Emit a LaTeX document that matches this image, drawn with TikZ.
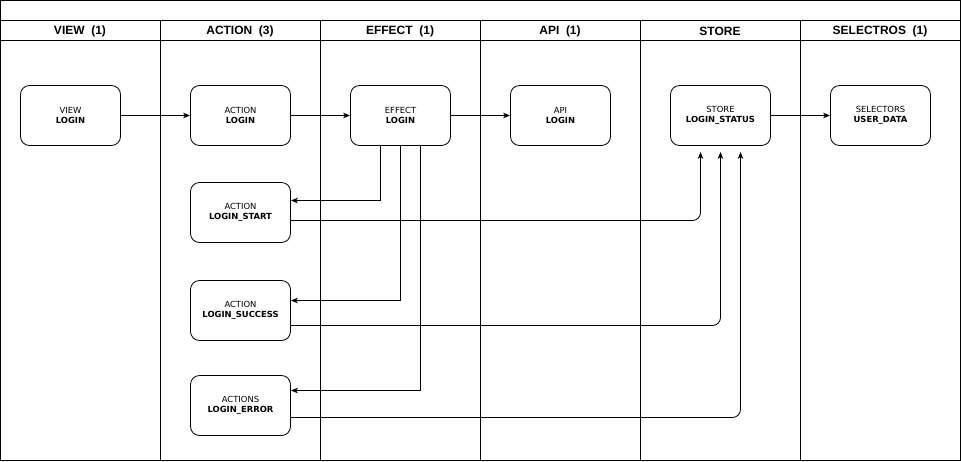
\documentclass[tikz,border=0pt]{standalone}
\usepackage{fontspec}
\setmainfont{DejaVu Sans}
\newfontfamily\hdrfont{Liberation Sans}
\usetikzlibrary{arrows.meta,calc}
\begin{document}
\begin{tikzpicture}[x=1pt,y=-1pt,
  box/.style={draw,line width=0.8pt,rounded corners=9pt,minimum width=100pt,minimum height=60pt,inner sep=0pt,align=center,font=\fontsize{8.4}{10}\selectfont},
  hdr/.style={font=\hdrfont\bfseries\fontsize{12}{13}\selectfont,anchor=center},
  arr/.style={line width=0.8pt,-{Stealth[length=7pt,width=5.5pt,inset=2pt]}},
  lane/.style={line width=0.8pt}]
\useasboundingbox (0,0) rectangle (961,461);
% frame
\draw[lane] (0.5,0.5) rectangle (960.5,460.5);
\draw[lane] (0.5,20.5) -- (960.5,20.5);
\draw[lane] (0.5,40.5) -- (960.5,40.5);
\foreach \x in {160,320,480,640,800} \draw[lane] (\x+0.5,20.5) -- (\x+0.5,460.5);
% headers
\node[hdr] (h1) at (80,31) {VIEW\ \ (1)};
\node[hdr] (h2) at (240,31) {ACTION\ \ (3)};
\node[hdr] (h3) at (400,31) {EFFECT\ \ (1)};
\node[hdr] (h4) at (560,31) {API\ \ (1)};
\node[hdr] (h5) at (720,31) {STORE};
\node[hdr] (h6) at (880,31) {SELECTROS\ \ (1)};
% nodes
\node[box] (view) at (70.5,115.5) {VIEW\\\textbf{LOGIN}};
\node[box] (action) at (240.5,115.5) {ACTION\\\textbf{LOGIN}};
\node[box] (effect) at (400.5,115.5) {EFFECT\\\textbf{LOGIN}};
\node[box] (api) at (560.5,115.5) {API\\\textbf{LOGIN}};
\node[box] (store) at (720.5,115.5) {STORE\\\textbf{LOGIN\_STATUS}};
\node[box] (sel) at (880.5,115.5) {SELECTORS\\\textbf{USER\_DATA}};
\node[box] (start) at (240.5,212.5) {ACTION\\\textbf{LOGIN\_START}};
\node[box] (succ) at (240.5,310.5) {ACTION\\\textbf{LOGIN\_SUCCESS}};
\node[box] (err) at (240.5,405.5) {ACTIONS\\\textbf{LOGIN\_ERROR}};
% main flow
\draw[arr] (view) -- (action);
\draw[arr] (action) -- (effect);
\draw[arr] (effect) -- (api);
\draw[arr] (store) -- (sel);
% effect to actions
\draw[arr] ([xshift=-20pt]effect.south) |- ([yshift=12pt]start.east);
\draw[arr] (effect.south) |- ([yshift=10pt]succ.east);
\draw[arr] ([xshift=20pt]effect.south) |- ([yshift=15pt]err.east);
% actions to store
\draw[arr,rounded corners=8pt,shorten >=6pt] ([yshift=-8pt]start.east) -| ([xshift=-20pt]store.south);
\draw[arr,rounded corners=8pt,shorten >=6pt] ([yshift=-15pt]succ.east) -| (store.south);
\draw[arr,rounded corners=8pt,shorten >=6pt] ([yshift=-12pt]err.east) -| ([xshift=20pt]store.south);
\end{tikzpicture}
\end{document}
